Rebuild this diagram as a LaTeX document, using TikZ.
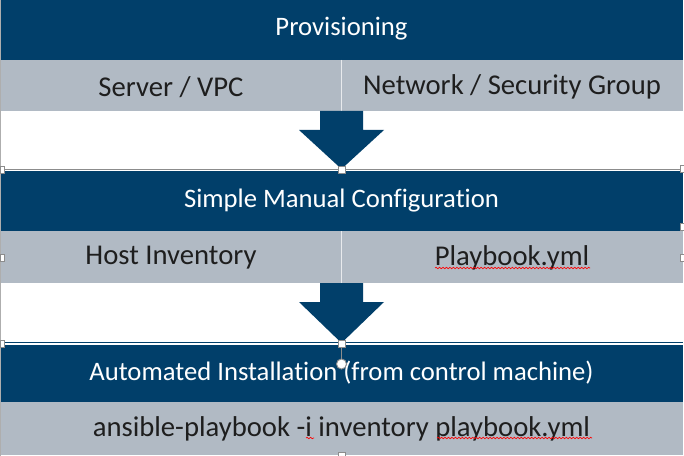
\documentclass[tikz,border=0pt]{standalone}
\usepackage{fontspec}
\setmainfont{Carlito}[Ligatures={NoCommon}]
\usetikzlibrary{decorations.pathmorphing}
\definecolor{darkbar}{HTML}{013F6A}
\definecolor{graybar}{HTML}{B1BAC4}
\definecolor{txtdark}{HTML}{1E1E1E}
\definecolor{handlegray}{HTML}{8C8C8C}
\tikzset{
  darklabel/.style={text=white, font=\fontsize{20}{24}\selectfont, inner sep=0pt},
  graylabel/.style={text=txtdark, font=\fontsize{21.5}{26}\selectfont, inner sep=0pt},
  bigarrow/.style={fill=darkbar},
  squiggle/.style={draw=red, line width=0.5pt, decorate, decoration={snake, amplitude=0.55pt, segment length=2.6pt}},
  handle/.style={draw=handlegray, fill=white, line width=0.5pt},
  divider/.style={draw=white!70!graybar, line width=0.8pt},
}
\begin{document}
\begin{tikzpicture}[x=0.75pt, y=-0.75pt]
\useasboundingbox (0,0) rectangle (684,456);
\fill[white] (0,0) rectangle (684,456);
% block 1
\fill[darkbar] (1,0) rectangle (683,60);
\fill[graybar] (1,60) rectangle (683,111);
\draw[divider] (341.5,60) -- (341.5,111);
% block 2
\draw[handlegray, line width=0.6pt] (1,169.5) -- (683,169.5);
\fill[darkbar] (1,171) rectangle (683,231);
\fill[graybar] (1,231) rectangle (683,283);
\draw[divider] (341.5,231) -- (341.5,283);
% block 3
\draw[darkbar, line width=0.8pt] (1,342.5) -- (683,342.5);
\fill[darkbar] (1,345) rectangle (683,402);
\fill[graybar] (1,402) rectangle (683,455);
% left frame line
\draw[handlegray!70, line width=0.5pt] (0.5,0) -- (0.5,456);
% arrows
\fill[bigarrow] (320,111) -- (363,111) -- (363,130) -- (384,130) -- (341.5,169) -- (299,130) -- (320,130) -- cycle;
\fill[bigarrow] (320,283) -- (363,283) -- (363,302) -- (384,302) -- (341.5,343) -- (299,302) -- (320,302) -- cycle;
% labels
\node[darklabel] (prov) at (341.5,29) {Provisioning};
\node[graylabel] (server) at (171,87) {Server / VPC};
\node[graylabel] (network) at (512,87) {Network / Security Group};
\node[darklabel] (simple) at (341.5,201) {Simple Manual Configuration};
\node[graylabel] (host) at (171,258) {Host Inventory};
\node[graylabel] (playbook) at (512,258) {Playbook.yml};
\node[darklabel] (auto) at (341.5,373) {Automated Installation (from control machine)};
\node[graylabel] (cmd) at (341.5,429) {ansible-playbook -i inventory playbook.yml};
% spell-check squiggles
\draw[squiggle] (435,268) -- (590,268);
\draw[squiggle] (306,438) -- (314,438);
\draw[squiggle] (437,438) -- (592,438);
% selection handles
\draw[handlegray, line width=0.5pt] (341.5,343) -- (341.5,359);
\draw[handle, line width=0.7pt] (341.5,364) circle (5);
\draw[handle] (338,166) rectangle (345,173);
\draw[handle] (338,340) rectangle (345,347);
\draw[handle] (0,166) rectangle (4,173);
\draw[handle] (0,254) rectangle (4,261);
\draw[handle] (0,340) rectangle (4,347);
\draw[handle] (680,165) rectangle (684,172);
\draw[handle] (680,223) rectangle (684,230);
\draw[handle] (680,254) rectangle (684,261);
\draw[handle] (338,452) rectangle (345,456);
\end{tikzpicture}
\end{document}
